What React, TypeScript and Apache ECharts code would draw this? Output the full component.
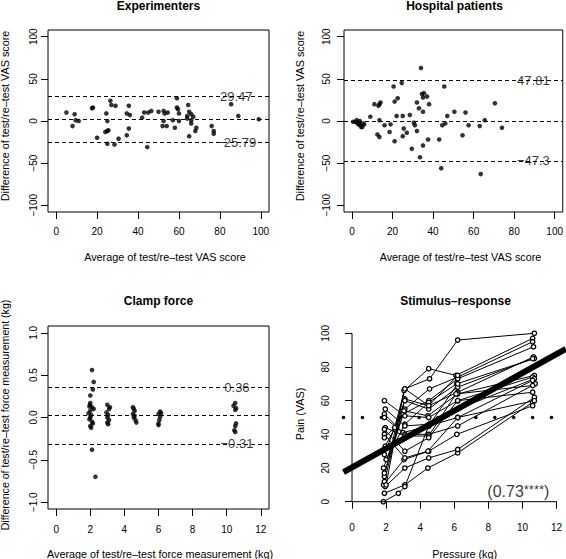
import React, { useEffect, useRef } from "react";
import * as echarts from "echarts";

// ---------- data ----------
const vasTicks = [0, 20, 40, 60, 80, 100];
const vasDiffTicks = [-100, -50, 0, 50, 100];
const forceTicks = [0, 2, 4, 6, 8, 10, 12];
const forceDiffTicks = [-1, -0.5, 0, 0.5, 1];
const painTicks = [0, 20, 40, 60, 80, 100];

// Experimenters: [average, difference]
const expPoints = [
  [5, 10], [9, 8], [8, -6], [9.5, 1], [11, 0],
  [17.5, 15], [18, 16], [20, -20], [24, -13], [24.5, 9], [25, 0], [25.5, -11], [25, -12], [25, -27], [28.5, -28],
  [26.5, 24], [27, 19], [29, 18], [30.5, -21], [34.5, -17], [35.5, -9], [35.5, 18], [34.5, 9], [36, 7],
  [42, 4], [43, 10], [44.5, -31], [45, 10], [46.5, 12], [50, 11],
  [52.5, 12], [53, 9], [52.5, 0], [52, -6], [54, -6], [54.5, 10], [57, 1], [58, -8],
  [59, 27], [59, 16], [59.5, 14], [60, 9], [60, 0],
  [64.5, 19], [64, 6], [65, 11], [64, 3], [66, 1], [66, -3], [65, -18], [67, 5], [68, -12], [68.5, -8], [66, 8],
  [76, -6], [77, -12], [77, -15], [85.5, 20], [89, 6], [99, 2],
];
const expLines = [29.47, 1.84, -25.79];

// Hospital patients
const hospPoints = [
  [0.5, -1], [1.5, -1], [2.3, 1], [2.5, -2], [3, -4], [3.5, -3], [3.8, 0], [4, -5], [4.5, -7], [5, -7], [5.5, -3], [6, -4],
  [9, 5], [11, 20], [13, 18], [13.5, 20], [14, 22], [13.5, 1], [12.5, -16], [13.5, -19], [16, -5], [18.5, -13], [19, -4],
  [20.5, 41], [21, 23], [21, -24], [22, 6], [22.5, 27], [24.5, 45], [25, 6], [25, -18], [25.5, -9], [27, -14], [28.5, 7], [29.5, -33],
  [30.5, -2], [31, -5], [32, -12], [32, 22], [33, 15], [34, 63], [33.5, -43], [34.5, 32], [35, 28], [35.5, 33], [37, 29], [35, -29], [35, 11], [38, 20], [37.5, -22],
  [43, -22], [44, -56], [44.5, -5], [46, -3], [45.5, 41], [47, 6], [50.5, 11], [56, 10], [54.5, -17], [57.5, -5], [63, -6], [63.5, -63], [65.5, 1], [70.5, 21], [74, -8],
];
const hospLines = [47.81, 0.25, -47.3];

// Clamp force
const clampPoints = [
  [2.1, 0.56], [2.2, 0.42], [2.15, 0.33], [2.0, 0.26],
  [2.0, 0.17], [1.95, 0.13], [2.1, 0.12], [2.0, 0.08], [1.9, 0.05], [2.05, 0.03], [2.0, 0.0], [1.95, -0.02],
  [2.1, -0.05], [2.15, -0.07], [2.0, -0.1], [2.05, -0.12], [2.2, 0.1], [1.98, 0.15],
  [2.1, -0.38], [2.3, -0.7],
  [3.0, 0.15], [3.1, 0.1], [2.95, 0.06], [3.05, 0.03], [3.0, 0.0], [3.1, -0.03], [3.0, -0.06], [3.15, 0.12], [3.05, -0.08],
  [4.5, 0.12], [4.6, 0.08], [4.5, 0.04], [4.55, 0.0], [4.65, -0.03], [4.7, -0.06], [4.6, 0.02], [4.55, 0.1],
  [6.1, 0.07], [6.0, 0.04], [6.1, 0.01], [6.05, -0.03], [6.0, -0.07], [6.0, -0.09], [6.15, 0.05],
  [10.4, 0.14], [10.5, 0.17], [10.55, 0.11], [10.5, 0.09], [10.55, -0.07], [10.5, -0.1], [10.45, -0.15], [10.5, -0.17],
];
const clampLines = [0.36, 0.025, -0.31];

// Stimulus-response: per-subject [pressure, pain]
const painSubjects = [
  [[1.9, 5], [3.1, 10], [4.45, 20], [6.2, 29], [10.6, 59]],
  [[1.95, 9], [3.1, 20], [4.5, 26], [6.2, 31], [10.7, 62]],
  [[1.85, 10], [3.05, 25], [4.5, 30], [6.15, 40], [10.6, 57]],
  [[1.9, 12], [3.1, 61], [4.5, 57], [6.2, 65], [10.65, 86]],
  [[1.9, 15], [3.1, 67], [4.55, 73], [6.2, 96], [10.7, 100]],
  [[2.0, 10], [3.05, 66], [4.5, 79], [6.1, 75], [10.6, 97]],
  [[1.85, 20], [3.1, 55], [4.55, 67], [6.2, 74], [10.6, 95]],
  [[1.9, 17], [3.0, 52], [4.5, 60], [6.2, 73], [10.65, 92]],
  [[2.0, 25], [3.1, 46], [4.5, 59], [6.15, 70], [10.7, 85]],
  [[1.9, 28], [3.1, 60], [4.5, 55], [6.2, 68], [10.6, 85]],
  [[1.95, 33], [3.05, 54], [4.45, 51], [6.2, 64], [10.7, 75]],
  [[1.9, 60], [3.1, 51], [4.5, 50], [6.2, 60], [10.6, 74]],
  [[1.95, 55], [3.1, 45], [4.55, 46], [6.2, 55], [10.7, 73]],
  [[1.9, 52], [3.0, 41], [4.5, 45], [6.2, 50], [10.6, 72]],
  [[1.9, 50], [3.1, 40], [4.5, 40], [6.2, 45], [10.75, 70]],
  [[1.95, 44], [3.1, 39], [4.5, 39], [6.1, 64], [10.6, 69]],
  [[1.9, 43], [3.1, 30], [4.5, 38], [6.2, 60], [10.6, 65]],
  [[1.9, 40], [3.1, 26], [4.45, 30], [6.2, 50], [10.7, 60]],
  [[1.84, 0], [2.72, 5], [3.1, 9], [4.5, 45], [6.2, 70]],
  [[1.9, 38], [2.5, 44], [3.1, 67], [4.5, 57], [6.2, 75]],
];
const regIntercept = 20.4;
const regSlope = 5.6;
const refPain = 50;
const corrValue = "0.73";
const corrStars = "****";

// ---------- helpers ----------
const FONT = '"Liberation Sans", Arial, Helvetica, sans-serif';
const minus = (s: string) => s.replace("-", "\u2212");

function xAx(grid: number, min: number, max: number, ticks: number[], margin: number) {
  return {
    gridIndex: grid, type: "value", min, max,
    axisLine: { show: false, onZero: false },
    splitLine: { show: false },
    axisTick: { show: true, length: 7, customValues: ticks, lineStyle: { color: "#000", width: 1 } },
    axisLabel: { customValues: ticks, margin, fontSize: 10, color: "#000", fontFamily: FONT,
      formatter: (v: number) => minus(String(v)) },
  };
}
function yAx(grid: number, min: number, max: number, ticks: number[], margin: number, digits: number | null, offset = 0, showLabel = true) {
  return {
    gridIndex: grid, type: "value", min, max, offset,
    axisLine: { show: false, onZero: false },
    splitLine: { show: false },
    axisTick: { show: true, length: 7, customValues: ticks, lineStyle: { color: "#000", width: 1 } },
    axisLabel: { show: showLabel, customValues: ticks, margin, rotate: 90, fontSize: 10, color: "#000", fontFamily: FONT,
      formatter: (v: number) => minus(digits == null ? String(v) : v.toFixed(digits)) },
  };
}
function baPanel(idx: number, pts: number[][], lines: number[], labelX: number) {
  return [
    {
      type: "scatter", xAxisIndex: idx, yAxisIndex: idx, data: pts, symbolSize: 4.6,
      itemStyle: { color: "#000" }, silent: true,
      markLine: {
        silent: true, symbol: ["none", "none"], label: { show: false },
        lineStyle: { color: "#000", type: [4, 3], width: 1 },
        data: lines.map((v) => ({ yAxis: v })),
      },
    },
    {
      type: "scatter", xAxisIndex: idx, yAxisIndex: idx, silent: true,
      data: [[labelX, lines[0]], [labelX, lines[2]]], symbolSize: 1,
      itemStyle: { color: "rgba(0,0,0,0)" },
      label: { show: true, position: "inside", fontSize: 13, color: "#000", fontFamily: FONT,
        formatter: (p: any) => minus(String(p.value[1])) },
      z: 5,
    },
  ];
}
function txt(text: string, x: number, y: number, size: number, bold = false, rot = 0) {
  return {
    type: "text", x, y, rotation: rot, silent: true,
    style: { text, font: `${bold ? "bold " : ""}${size}px ${FONT}`, fill: "#000",
      textAlign: "center", textVerticalAlign: "middle", align: "center", verticalAlign: "middle" },
  };
}

export default function App() {
  const ref = useRef<HTMLDivElement>(null);
  useEffect(() => {
    if (!ref.current) return;
    const chart = echarts.init(ref.current, null, { renderer: "svg" });
    const x4min = -0.5, x4max = 12.55;
    const graphics: any[] = [
      txt("Experimenters", 158.5, 6, 12, true),
      txt("Hospital patients", 454.5, 6, 12, true),
      txt("Clamp force", 158.5, 301, 12, true),
      txt("Stimulus\u2013response", 455.5, 301, 12, true),
      txt("Average of test/re\u2013test VAS score", 165, 257, 10.8),
      txt("Average of test/re\u2013test VAS score", 460.5, 257, 10.8),
      txt("Average of test/re\u2013test force measurement (kg)", 160, 554, 10.8),
      txt("Pressure (kg)", 464.7, 554, 10.8),
      txt("Difference of test/re\u2013test VAS score", 5, 116, 10.8, false, Math.PI / 2),
      txt("Difference of test/re\u2013test VAS score", 300.3, 116, 10.8, false, Math.PI / 2),
      txt("Difference of test/re\u2013test force measurement (kg)", 5, 415, 10.6, false, Math.PI / 2),
      txt("Pain (VAS)", 300.3, 414, 10.8, false, Math.PI / 2),
    ];
    const option: any = {
      animation: false,
      backgroundColor: "#fff",
      grid: [
        { left: 48, top: 30, width: 221, height: 182, show: true, borderColor: "#000", borderWidth: 1, backgroundColor: "transparent" },
        { left: 344, top: 30, width: 220, height: 182, show: true, borderColor: "#000", borderWidth: 1, backgroundColor: "transparent" },
        { left: 48, top: 326, width: 221, height: 183, show: true, borderColor: "#000", borderWidth: 1, backgroundColor: "transparent" },
        { left: 343.5, top: 333.3, width: 222.4, height: 168.4, show: false },
      ],
      xAxis: [
        xAx(0, -4, 104, vasTicks, 14),
        xAx(1, -4, 104, vasTicks, 14),
        xAx(2, -0.48, 12.48, forceTicks, 15),
        xAx(3, x4min, x4max, forceTicks, 21),
      ],
      yAxis: [
        yAx(0, -108, 108, vasDiffTicks, 10, null),
        yAx(1, -108, 108, vasDiffTicks, 12.5, null),
        yAx(2, -1.08, 1.08, forceDiffTicks, 10, 1),
        yAx(3, 0, 100, painTicks, 21.5, null, -8.5, false),
      ],
      series: [
        ...baPanel(0, expPoints, expLines, 88),
        ...baPanel(1, hospPoints, hospLines, 89.5),
        ...baPanel(2, clampPoints, clampLines, 10.6),
        {
          type: "line", xAxisIndex: 3, yAxisIndex: 3, silent: true, symbol: "none",
          data: [[x4min, refPain], [x4max, refPain]],
          lineStyle: { color: "#000", type: [0.01, 18.9], width: 3.6, cap: "round" }, z: 1,
        },
        ...painSubjects.map((s) => ({
          type: "line", xAxisIndex: 3, yAxisIndex: 3, data: s, silent: true, clip: false,
          symbol: "circle", symbolSize: 4.4, showSymbol: true,
          itemStyle: { color: "#fff", borderColor: "#000", borderWidth: 1.3 },
          lineStyle: { color: "#000", width: 1 }, z: 2,
        })),
        {
          type: "line", xAxisIndex: 3, yAxisIndex: 3, silent: true, symbol: "none",
          data: [[x4min, regIntercept + regSlope * x4min], [x4max, regIntercept + regSlope * x4max]],
          lineStyle: { color: "#000", width: 6 }, z: 4,
        },
        {
          // R-style axis lines: x from 0 to 12 at pain 0, y from 0 to 100 at pressure 0
          type: "line", xAxisIndex: 3, yAxisIndex: 3, silent: true, symbol: "none", clip: false,
          data: [
            [forceTicks[forceTicks.length - 1], painTicks[0]],
            [forceTicks[0], painTicks[0]],
            [forceTicks[0], painTicks[painTicks.length - 1]],
          ],
          lineStyle: { color: "#000", width: 1 }, z: 3,
        },
        {
          type: "scatter", xAxisIndex: 3, yAxisIndex: 3, silent: true, symbolSize: 1,
          data: [[9.76, 6]], itemStyle: { color: "rgba(0,0,0,0)" }, z: 6,
          label: {
            show: true, position: "inside",
            formatter: () => `{a|(${corrValue}}{b|${corrStars}}{a|)}`,
            rich: {
              a: { fontSize: 16, fontFamily: FONT, color: "#000", lineHeight: 18 },
              b: { fontSize: 13, fontFamily: FONT, color: "#000", lineHeight: 12, verticalAlign: "top" },
            },
          },
        },
      ],
      graphic: graphics,
    };
    chart.setOption(option);
    // rotated y tick labels of the stimulus-response panel, placed through the axis scale
    const painLabels = painTicks.map((v) => {
      const p = chart.convertToPixel({ xAxisIndex: 3, yAxisIndex: 3 }, [forceTicks[0], v]) as number[];
      return txt(String(v), p[0] - 26.5, p[1], 10, false, Math.PI / 2);
    });
    chart.setOption({ graphic: [...graphics, ...painLabels] });
    return () => chart.dispose();
  }, []);
  return (
    <div
      ref={ref}
      style={{ position: "fixed", left: 0, top: 0, width: 566, height: 559, background: "#fff" }}
    />
  );
}
